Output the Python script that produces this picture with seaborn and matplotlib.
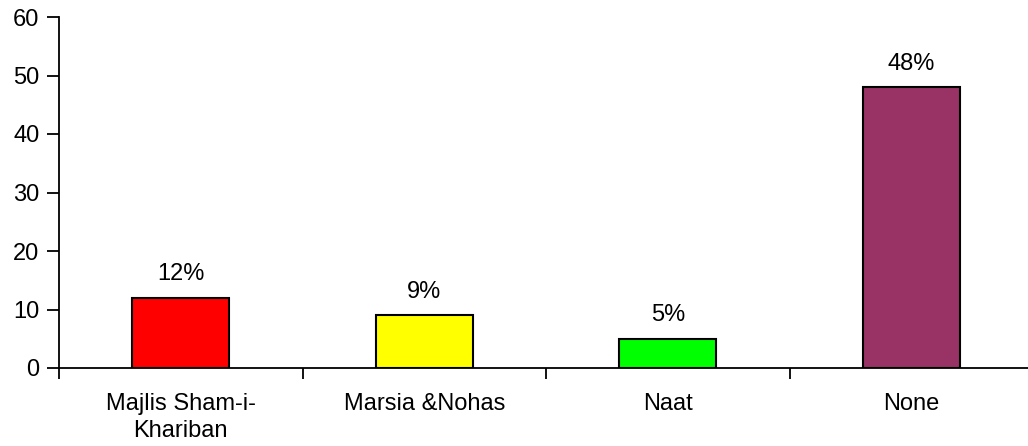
import matplotlib
matplotlib.use("Agg")
import matplotlib.pyplot as plt
import seaborn as sns
import pandas as pd
from matplotlib.ticker import FixedLocator, NullFormatter

categories = ["Majlis Sham-i-\nKhariban", "Marsia &Nohas", "Naat", "None"]
values = [12, 9, 5, 48]
labels = ["12%", "9%", "5%", "48%"]
colors = ["#FF0000", "#FFFF00", "#00FF00", "#993366"]

sns.set_style("ticks")
plt.rcParams['font.family'] = ['Liberation Sans', 'DejaVu Sans']
plt.rcParams['text.color'] = 'black'
plt.rcParams['xtick.color'] = 'black'
plt.rcParams['ytick.color'] = 'black'

df = pd.DataFrame({"cat": categories, "val": values})

fig = plt.figure(figsize=(10.28, 4.46), dpi=100)
ax = fig.add_axes([59 / 1028, 78 / 446, 974 / 1028, 351 / 446])

sns.barplot(data=df, x="cat", y="val", hue="cat", palette=colors, legend=False,
            width=0.4, edgecolor="black", linewidth=1.5, ax=ax, saturation=1)

ax.set_xlim(-0.5, 3.5)
ax.set_ylim(0, 60)
ax.set_yticks(range(0, 61, 10))
ax.set_xlabel("")
ax.set_ylabel("")

# category-boundary ticks, labels centred under bars
ax.xaxis.set_major_locator(FixedLocator([-0.5, 0.5, 1.5, 2.5, 3.5]))
ax.xaxis.set_major_formatter(NullFormatter())
ax.xaxis.set_minor_locator(FixedLocator([0, 1, 2, 3]))
ax.set_xticklabels(categories, minor=True, fontsize=17, linespacing=1.3, color="black")
ax.tick_params(axis="x", which="minor", length=0, pad=18)
ax.tick_params(axis="x", which="major", length=8, width=1.3, color="black")
ax.tick_params(axis="y", length=9, width=1.3, color="black", labelsize=17, pad=5,
               labelcolor="black")

for s in ["top", "right"]:
    ax.spines[s].set_visible(False)
for s in ["left", "bottom"]:
    ax.spines[s].set_linewidth(1.3)
    ax.spines[s].set_color("black")

for i, (v, t) in enumerate(zip(values, labels)):
    ax.annotate(t, (i, v), xytext=(0, 12.5), textcoords="offset points",
                ha="center", va="baseline", fontsize=17, color="black")

fig.savefig("out.png", dpi=100)
